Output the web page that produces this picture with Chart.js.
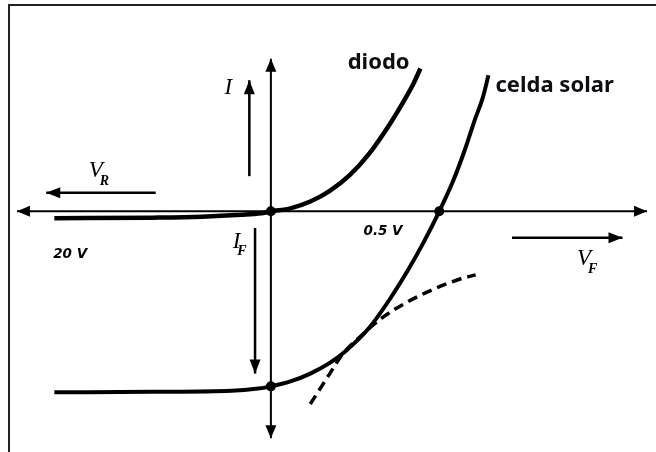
<!DOCTYPE html>
<html>
<head>
<meta charset="utf-8">
<title>Curva I-V: diodo y celda solar</title>
<script src="https://cdn.jsdelivr.net/npm/chart.js@4"></script>
<style>
  html, body { margin: 0; padding: 0; background: #fff; }
  #wrap { position: relative; width: 656px; height: 452px; overflow: hidden; }
  #frame { position: absolute; left: 8px; top: 4px; width: 660px; height: 460px;
           border-top: 2px solid #222; border-left: 2px solid #222; }
  canvas { position: absolute; left: 0; top: 0; }
</style>
</head>
<body>
<div id="wrap">
  <div id="frame"></div>
  <canvas id="ivChart" width="656" height="452"></canvas>
</div>
<script>
// Voltage in volts on the forward side (reverse side is schematic), current in units of I_L
const diodeV = [-0.643, -0.351, -0.205, -0.088, -0.029, 0, 0.058, 0.117, 0.175, 0.234, 0.292, 0.351, 0.395, 0.424, 0.444];
const diodeI = [-0.039, -0.036, -0.031, -0.020, -0.011, 0, 0.017, 0.056, 0.117, 0.207, 0.330, 0.492, 0.631, 0.732, 0.816];

const solarV = [-0.643, -0.351, -0.117, -0.044, 0, 0.058, 0.117, 0.175, 0.225, 0.292, 0.351, 0.409, 0.453, 0.5, 0.541, 0.576, 0.605, 0.629, 0.646];
const solarI = [-1.034, -1.031, -1.025, -1.014, -1.0, -0.972, -0.927, -0.866, -0.793, -0.665, -0.508, -0.330, -0.179, 0, 0.173, 0.352, 0.520, 0.648, 0.777];

const dashV = [0.117, 0.175, 0.213, 0.272, 0.330, 0.409, 0.488, 0.564, 0.608];
const dashI = [-1.101, -0.927, -0.816, -0.704, -0.609, -0.514, -0.441, -0.385, -0.363];

// marked points: origin, open-circuit voltage, short-circuit current
const markV = [0, 0.5, 0];
const markI = [0, 0, -1.0];

const xRange = [-0.7895, 1.1287];
const yRange = [-1.3464, 1.1788];

// axes and direction arrows, as [x1, y1, x2, y2]
const axisLines = [
  [1.117, 0, -0.754, 0],
  [0, -1.296, 0, 0.872]
];
const arrows = [
  [-0.064, 0.201, -0.064, 0.749],
  [-0.342, 0.106, -0.667, 0.106],
  [-0.047, -0.095, -0.047, -0.927],
  [0.716, -0.151, 1.044, -0.151]
];

// text: [label, x, y, subscript]
const symbolLabels = [
  ['I', -0.126, 0.704, ''],
  ['V', -0.520, 0.229, 'R'],
  ['I', -0.102, -0.173, 'F'],
  ['V', 0.930, -0.274, 'F']
];
const valueLabels = [
  ['0.5 V', 0.333, -0.117],
  ['20 V', -0.596, -0.246]
];
const curveLabels = [
  ['diodo', 0.228, 0.849],
  ['celda solar', 0.667, 0.715]
];

function toPoints(xs, ys) {
  return xs.map((x, i) => ({ x: x, y: ys[i] }));
}

function arrowHead(ctx, x1, y1, x2, y2, len, half) {
  const a = Math.atan2(y2 - y1, x2 - x1);
  ctx.beginPath();
  ctx.moveTo(x2, y2);
  ctx.lineTo(x2 - len * Math.cos(a) + half * Math.sin(a), y2 - len * Math.sin(a) - half * Math.cos(a));
  ctx.lineTo(x2 - len * Math.cos(a) - half * Math.sin(a), y2 - len * Math.sin(a) + half * Math.cos(a));
  ctx.closePath();
  ctx.fill();
}

const diagramPlugin = {
  id: 'diagram',
  beforeDatasetsDraw(chart) {
    const ctx = chart.ctx;
    const sx = chart.scales.x, sy = chart.scales.y;
    ctx.save();
    ctx.strokeStyle = '#000';
    ctx.fillStyle = '#000';
    ctx.lineWidth = 2;
    axisLines.forEach(l => {
      const x1 = sx.getPixelForValue(l[0]), y1 = sy.getPixelForValue(l[1]);
      const x2 = sx.getPixelForValue(l[2]), y2 = sy.getPixelForValue(l[3]);
      ctx.beginPath();
      ctx.moveTo(x1, y1);
      ctx.lineTo(x2, y2);
      ctx.stroke();
      arrowHead(ctx, x1, y1, x2, y2, 13, 5.5);
      arrowHead(ctx, x2, y2, x1, y1, 13, 5.5);
    });
    ctx.lineWidth = 2.5;
    arrows.forEach(l => {
      const x1 = sx.getPixelForValue(l[0]), y1 = sy.getPixelForValue(l[1]);
      const x2 = sx.getPixelForValue(l[2]), y2 = sy.getPixelForValue(l[3]);
      ctx.beginPath();
      ctx.moveTo(x1, y1);
      ctx.lineTo(x2, y2);
      ctx.stroke();
      arrowHead(ctx, x1, y1, x2, y2, 14, 5.5);
    });
    ctx.restore();
  },
  afterDraw(chart) {
    const ctx = chart.ctx;
    const sx = chart.scales.x, sy = chart.scales.y;
    ctx.save();
    ctx.fillStyle = '#000';
    ctx.textBaseline = 'middle';

    symbolLabels.forEach(l => {
      const x = sx.getPixelForValue(l[1]), y = sy.getPixelForValue(l[2]);
      ctx.font = 'italic 23px "Liberation Serif"';
      ctx.textAlign = 'center';
      ctx.fillText(l[0], x, y);
      if (l[3]) {
        const w = ctx.measureText(l[0]).width;
        ctx.font = 'italic bold 14px "Liberation Serif"';
        ctx.textAlign = 'left';
        ctx.fillText(l[3], x + w / 2 - 3, y + 10);
      }
    });

    ctx.font = 'italic bold 13.5px "DejaVu Sans"';
    ctx.textAlign = 'center';
    valueLabels.forEach(l => {
      ctx.fillText(l[0], sx.getPixelForValue(l[1]), sy.getPixelForValue(l[2]));
    });

    ctx.font = 'bold 22px "Noto Sans"';
    ctx.fillStyle = '#0d0d14';
    ctx.textAlign = 'left';
    curveLabels.forEach(l => {
      ctx.fillText(l[0], sx.getPixelForValue(l[1]), sy.getPixelForValue(l[2]));
    });
    ctx.restore();
  }
};

const curveStyle = {
  showLine: true,
  fill: false,
  pointRadius: 0,
  borderColor: '#000',
  cubicInterpolationMode: 'monotone'
};

new Chart(document.getElementById('ivChart'), {
  type: 'scatter',
  data: {
    datasets: [
      Object.assign({ label: 'diodo', data: toPoints(diodeV, diodeI), borderWidth: 4.5 }, curveStyle),
      Object.assign({ label: 'celda solar', data: toPoints(solarV, solarI), borderWidth: 4 }, curveStyle),
      Object.assign({ label: 'potencia', data: toPoints(dashV, dashI), borderWidth: 3.5, borderDash: [10, 6] }, curveStyle),
      {
        label: 'puntos',
        data: toPoints(markV, markI),
        showLine: false,
        pointRadius: 5,
        pointBackgroundColor: '#000',
        pointBorderWidth: 0
      }
    ]
  },
  options: {
    responsive: false,
    animation: false,
    devicePixelRatio: 1,
    layout: { padding: 0 },
    plugins: { legend: { display: false }, tooltip: { enabled: false } },
    scales: {
      x: { type: 'linear', display: false, min: xRange[0], max: xRange[1] },
      y: { type: 'linear', display: false, min: yRange[0], max: yRange[1] }
    }
  },
  plugins: [diagramPlugin]
});
</script>
</body>
</html>
